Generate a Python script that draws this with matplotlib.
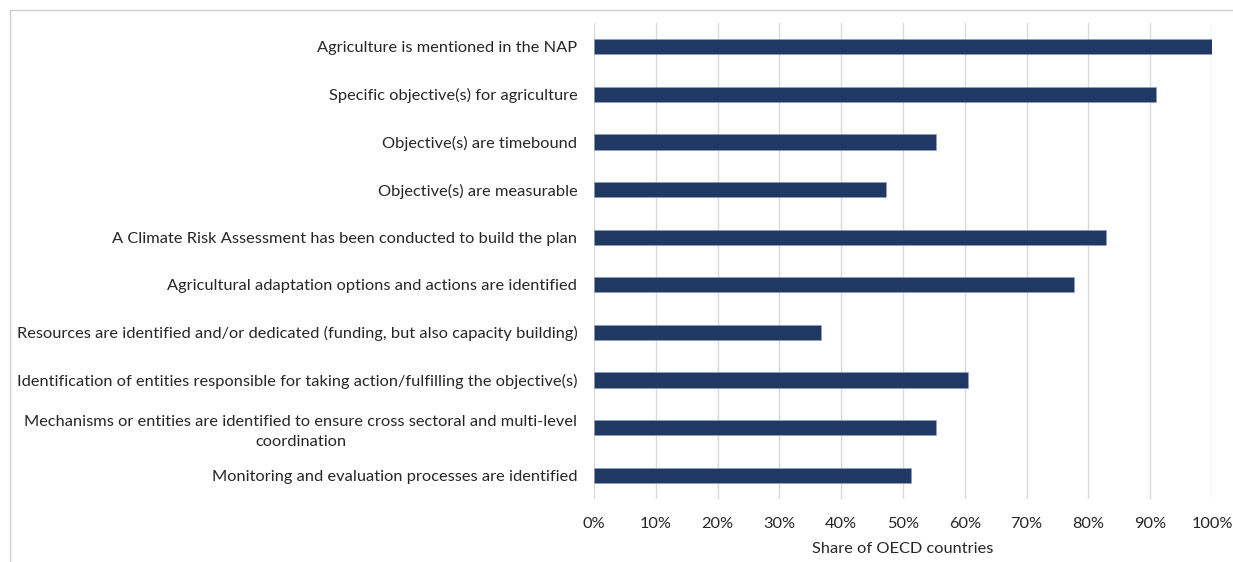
import matplotlib
matplotlib.use("Agg")
import matplotlib.pyplot as plt
from matplotlib.lines import Line2D
from matplotlib.ticker import FuncFormatter, MultipleLocator

# Share of OECD countries meeting each criterion (%)
criteria = [
    "Agriculture is mentioned in the NAP",
    "Specific objective(s) for agriculture",
    "Objective(s) are timebound",
    "Objective(s) are measurable",
    "A Climate Risk Assessment has been conducted to build the plan",
    "Agricultural adaptation options and actions are identified",
    "Resources are identified and/or dedicated (funding, but also capacity building)",
    "Identification of entities responsible for taking action/fulfilling the objective(s)",
    "Mechanisms or entities are identified to ensure cross sectoral and multi-level\ncoordination",
    "Monitoring and evaluation processes are identified",
]
shares = [100.0, 90.9, 55.3, 47.3, 82.8, 77.6, 36.8, 60.5, 55.3, 51.3]

BAR_COLOR = "#203864"
TEXT_COLOR = "#262626"
GRID_COLOR = "#d9d9d9"
FONT_SIZE = 11.8

plt.rcParams["font.family"] = ["Lato", "DejaVu Sans"]

fig = plt.figure(figsize=(12.33, 5.62), dpi=100)
ax = fig.add_axes([594 / 1233, 1 - 499 / 562, 618 / 1233, 476 / 562])

positions = list(range(len(criteria)))
ax.barh(positions, shares, height=0.32, color=BAR_COLOR,
        edgecolor="#8ea0c4", linewidth=0.4, zorder=3)

ax.set_xlim(0, 100)
ax.set_ylim(len(criteria) - 0.5, -0.5)
ax.set_yticks(positions)
ax.set_yticklabels(criteria, multialignment="center", linespacing=1.5)
ax.xaxis.set_major_locator(MultipleLocator(10))
ax.xaxis.set_major_formatter(FuncFormatter(lambda x, pos: f"{int(x)}%"))

ax.grid(axis="x", color=GRID_COLOR, linewidth=1.0, zorder=0)
ax.tick_params(axis="both", length=0, labelsize=FONT_SIZE,
               labelcolor=TEXT_COLOR)
ax.tick_params(axis="y", pad=12)
ax.tick_params(axis="x", pad=13)
for spine in ax.spines.values():
    spine.set_visible(False)

ax.set_xlabel("Share of OECD countries", fontsize=FONT_SIZE,
              color=TEXT_COLOR, labelpad=8)

# thin outer frame on the left and top edges
fig.add_artist(Line2D([10 / 1233, 10 / 1233], [0, 1 - 10 / 562],
                      color="#d0d0d0", linewidth=1))
fig.add_artist(Line2D([10 / 1233, 1], [1 - 10 / 562, 1 - 10 / 562],
                      color="#d0d0d0", linewidth=1))

fig.savefig("out.png", dpi=100)
